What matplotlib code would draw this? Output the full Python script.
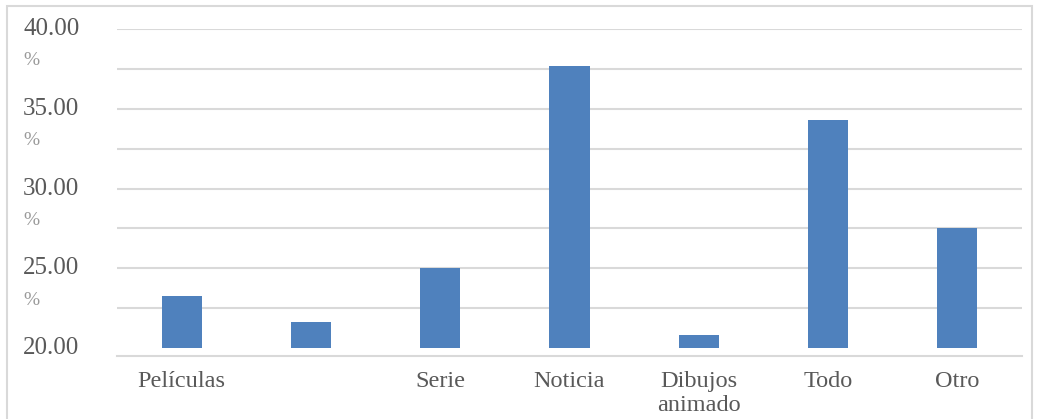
import matplotlib.pyplot as plt
from matplotlib.patches import Rectangle
from matplotlib.transforms import blended_transform_factory

# Data (percent)
categories = ['Películas', '', 'Serie', 'Noticia', 'Dibujos\nanimado', 'Todo', 'Otro']
values = [23.26, 21.63, 25.0, 37.68, 20.82, 34.28, 27.5]
label_values = [40, 35, 30, 25, 20]
grid_values = [22.5, 25, 27.5, 30, 32.5, 35, 37.5, 40]

W, H = 1037, 419
fig = plt.figure(figsize=(W / 100, H / 100), dpi=100)
ax = fig.add_axes([117 / W, 1 - 356 / H, (1022 - 117) / W, (356 - 29) / H])

fam = ['Liberation Serif', 'DejaVu Serif']
plt.rcParams['font.family'] = fam
text_col = '#595959'
grid_col = '#d9d9d9'

x = list(range(len(categories)))
ax.bar(x, [v - 20 for v in values], bottom=20, width=0.31, color='#4f81bd', zorder=3)

for g in grid_values:
    ax.axhline(g, color=grid_col, lw=1.5, zorder=1)

ax.set_xlim(-0.5, len(categories) - 0.5)
ax.set_ylim(19.5, 40)

for s in ['top', 'right', 'left']:
    ax.spines[s].set_visible(False)
ax.spines['bottom'].set_color(grid_col)
ax.spines['bottom'].set_linewidth(1.5)

ax.set_yticks([])
ax.set_xticks(x)
ax.set_xticklabels(categories, fontsize=17.5, color=text_col, family=fam, linespacing=1.2)
ax.tick_params(axis='x', length=0, pad=11)

# y labels, wrapped like the original ("40.00" then "%")
tr = blended_transform_factory(fig.transFigure, ax.transData)
for v in label_values:
    ax.text(23 / W, v, f'{v:.2f}', transform=tr, ha='left', va='center',
            fontsize=18, color=text_col, family=fam)
    if v > 20:
        ax.text(23 / W, v - 2.0, '%', transform=tr, ha='left', va='center',
                fontsize=14, color='#9a9a9a', family=fam)

# outer chart border
fig.patches.append(Rectangle((7 / W, -0.05), (1032 - 7) / W, 1.05 - 6 / H,
                             transform=fig.transFigure, fill=False,
                             edgecolor=grid_col, lw=1.5))

fig.savefig('out.png', dpi=100)
